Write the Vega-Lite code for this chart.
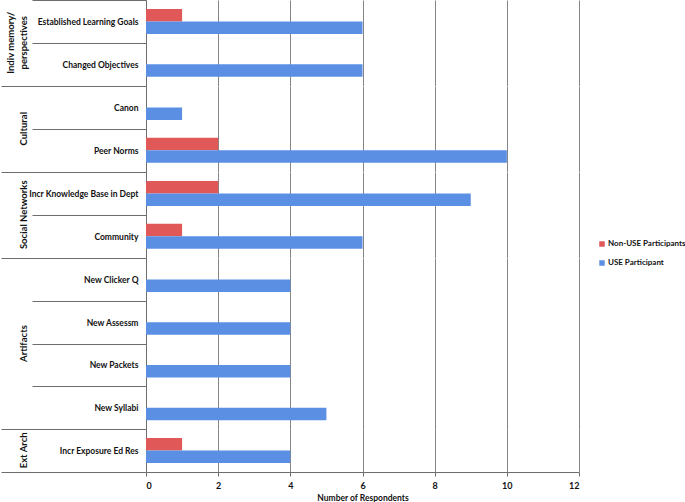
{
  "$schema": "https://vega.github.io/schema/vega-lite/v6.json",
  "padding": {"left": 0, "top": -4, "right": 0, "bottom": 0},
  "data": {"values": [
    {"group": "Indiv memory/|perspectives", "item": "Established Learning Goals", "series": "Non-USE Participants", "value": 1},
    {"group": "Indiv memory/|perspectives", "item": "Established Learning Goals", "series": "USE Participant", "value": 6},
    {"group": "Indiv memory/|perspectives", "item": "Changed Objectives", "series": "USE Participant", "value": 6},
    {"group": "Cultural", "item": "Canon", "series": "USE Participant", "value": 1},
    {"group": "Cultural", "item": "Peer Norms", "series": "Non-USE Participants", "value": 2},
    {"group": "Cultural", "item": "Peer Norms", "series": "USE Participant", "value": 10},
    {"group": "Social Networks", "item": "Incr Knowledge Base in Dept", "series": "Non-USE Participants", "value": 2},
    {"group": "Social Networks", "item": "Incr Knowledge Base in Dept", "series": "USE Participant", "value": 9},
    {"group": "Social Networks", "item": "Community", "series": "Non-USE Participants", "value": 1},
    {"group": "Social Networks", "item": "Community", "series": "USE Participant", "value": 6},
    {"group": "Artifacts", "item": "New Clicker Q", "series": "USE Participant", "value": 4},
    {"group": "Artifacts", "item": "New Assessm", "series": "USE Participant", "value": 4},
    {"group": "Artifacts", "item": "New Packets", "series": "USE Participant", "value": 4},
    {"group": "Artifacts", "item": "New Syllabi", "series": "USE Participant", "value": 5},
    {"group": "Ext Arch", "item": "Incr Exposure Ed Res", "series": "Non-USE Participants", "value": 1},
    {"group": "Ext Arch", "item": "Incr Exposure Ed Res", "series": "USE Participant", "value": 4}
  ]},
  "facet": {
    "row": {
      "field": "group", "type": "nominal",
      "sort": ["Indiv memory/|perspectives", "Cultural", "Social Networks", "Artifacts", "Ext Arch"],
      "header": {
        "title": null, "labelAngle": -90, "labelOrient": "left",
        "labelExpr": "split(datum.value, '|')",
        "labelFont": "Lato", "labelFontSize": 9.5, "labelFontWeight": "bold",
        "labelColor": "#111", "labelPadding": 113, "labelLineHeight": 13
      }
    }
  },
  "spacing": 0,
  "bounds": "flush",
  "resolve": {"scale": {"y": "independent"}},
  "spec": {
    "width": 433,
    "height": {"step": 12.5},
    "mark": {"type": "bar"},
    "encoding": {
      "y": {
        "field": "item", "type": "nominal",
        "sort": ["Established Learning Goals", "Changed Objectives", "Canon", "Peer Norms", "Incr Knowledge Base in Dept", "Community", "New Clicker Q", "New Assessm", "New Packets", "New Syllabi", "Incr Exposure Ed Res"],
        "scale": {"paddingInner": 0, "paddingOuter": 0},
        "axis": {
          "title": null, "tickBand": "extent", "tickWidth": 1,
          "tickColor": "#6e6e6e",
          "tickSize": {"condition": {"test": "indexof(['Changed Objectives', 'Peer Norms', 'Community', 'New Syllabi', 'Incr Exposure Ed Res'], datum.value) >= 0 || (datum.value === 'Established Learning Goals' && datum.index === 1)", "value": 145}, "value": 114},
          "labelPadding": {"condition": {"test": "indexof(['Changed Objectives', 'Peer Norms', 'Community', 'New Syllabi', 'Incr Exposure Ed Res'], datum.value) >= 0", "value": -137}, "value": -106},
          "domainColor": "#6e6e6e",
          "labelAlign": "right",
          "labelFont": "Lato", "labelFontSize": 8.5, "labelFontWeight": "bold",
          "labelColor": "#111", "labelLimit": 200
        }
      },
      "yOffset": {
        "field": "series", "type": "nominal",
        "scale": {"domain": ["Non-USE Participants", "USE Participant"], "paddingInner": 0, "paddingOuter": 0.71}
      },
      "x": {
        "field": "value", "type": "quantitative",
        "scale": {"domain": [0, 12]},
        "axis": {
          "values": [0, 2, 4, 6, 8, 10, 12], "title": "Number of Respondents",
          "grid": true, "gridColor": "#858585", "gridWidth": 1,
          "domainColor": "#6e6e6e", "tickColor": "#6e6e6e", "tickSize": 4,
          "labelFont": "Lato", "labelFontSize": 9, "labelFontWeight": "bold", "labelColor": "#111",
          "labelPadding": 5,
          "titleFont": "Lato", "titleFontSize": 8.5, "titleFontWeight": "bold", "titleColor": "#111",
          "titlePadding": 3
        }
      },
      "color": {
        "field": "series", "type": "nominal",
        "scale": {"domain": ["Non-USE Participants", "USE Participant"], "range": ["#e05858", "#5b8fe4"]},
        "legend": {
          "title": null, "orient": "none", "legendX": 452, "legendY": 240,
          "symbolType": "square", "symbolSize": 30, "symbolStrokeWidth": 0,
          "labelFont": "Lato", "labelFontSize": 8, "labelFontWeight": "bold", "labelColor": "#111",
          "rowPadding": 11, "labelOffset": 2
        }
      }
    }
  },
  "config": {"view": {"stroke": null}}
}
